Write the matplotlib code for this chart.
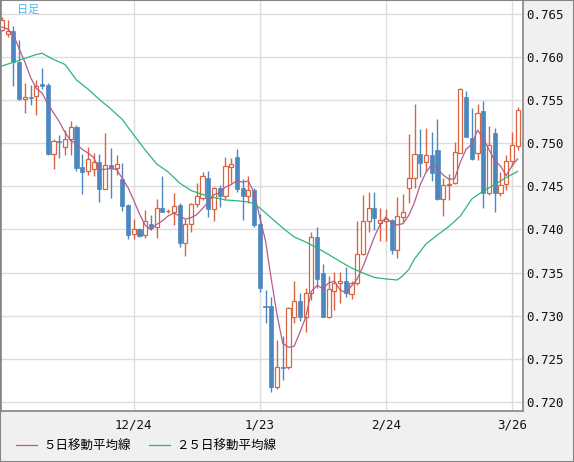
import numpy as np
import matplotlib.pyplot as plt
from matplotlib.patches import Rectangle

plt.rcParams['font.family'] = ['DejaVu Sans Mono', 'Noto Sans CJK JP']

# daily candles, index -1 (cut by the left edge) .. 89
opens = [0.76314, 0.76268, 0.76302, 0.75943, 0.75519, 0.75537, 0.75554, 0.75682, 0.75676, 0.74879,
         0.75026, 0.74957, 0.75046, 0.75192, 0.74725, 0.74673, 0.74696, 0.74783, 0.74473, 0.74748,
         0.74717, 0.74586, 0.74284, 0.73944, 0.74006, 0.73933, 0.74060, 0.74025, 0.74249, 0.74209,
         0.74206, 0.74284, 0.73847, 0.74060, 0.74292, 0.74362, 0.74597, 0.74241, 0.74478, 0.74392,
         0.74728, 0.74844, 0.74478, 0.74392, 0.74458, 0.74064, 0.73112, 0.73116, 0.72176, 0.72405,
         0.72399, 0.72981, 0.73170, 0.72988, 0.73260, 0.73913, 0.73495, 0.72988, 0.73286, 0.73376,
         0.73402, 0.73252, 0.73376, 0.73712, 0.74098, 0.74249, 0.74079, 0.74098, 0.74110, 0.73762,
         0.74148, 0.74478, 0.74594, 0.74876, 0.74779, 0.74864, 0.74922, 0.74357, 0.74520, 0.74536,
         0.74891, 0.75540, 0.75058, 0.74887, 0.75374, 0.74420, 0.75123, 0.74427, 0.74524, 0.74789,
         0.74968]
highs = [0.76465, 0.76430, 0.76360, 0.76198, 0.75699, 0.75676, 0.75734, 0.75873, 0.75703, 0.75050,
         0.75096, 0.75154, 0.75258, 0.75209, 0.74876, 0.74957, 0.74887, 0.74876, 0.75116, 0.74945,
         0.74864, 0.74771, 0.74296, 0.74122, 0.74017, 0.74226, 0.74168, 0.74354, 0.74624, 0.74238,
         0.74427, 0.74307, 0.74118, 0.74311, 0.74536, 0.74670, 0.74678, 0.74496, 0.74516, 0.74844,
         0.74826, 0.74934, 0.74582, 0.74620, 0.74481, 0.74180, 0.73298, 0.73220, 0.72718, 0.72764,
         0.73101, 0.73402, 0.73263, 0.73321, 0.73971, 0.74029, 0.73600, 0.73460, 0.73507, 0.73510,
         0.73565, 0.73397, 0.74098, 0.74400, 0.74438, 0.74438, 0.74246, 0.74243, 0.74122, 0.74380,
         0.74412, 0.75108, 0.75456, 0.75162, 0.75177, 0.75131, 0.75278, 0.74597, 0.74644, 0.75015,
         0.75641, 0.75612, 0.75409, 0.75456, 0.75490, 0.75200, 0.75177, 0.74667, 0.74864, 0.75131,
         0.75424]
lows = [0.76302, 0.76233, 0.75664, 0.75502, 0.75355, 0.75444, 0.75328, 0.75635, 0.74864, 0.74702,
        0.74833, 0.74864, 0.74864, 0.74678, 0.74415, 0.74632, 0.74620, 0.74313, 0.74466, 0.74369,
        0.74632, 0.74214, 0.73890, 0.73886, 0.73913, 0.73901, 0.73994, 0.73905, 0.74203, 0.74191,
        0.74052, 0.73800, 0.73696, 0.73974, 0.74264, 0.74342, 0.74148, 0.74102, 0.74264, 0.74354,
        0.74536, 0.74431, 0.74110, 0.74304, 0.74025, 0.73278, 0.72919, 0.72118, 0.72150, 0.72254,
        0.72387, 0.72915, 0.72938, 0.72814, 0.73182, 0.73321, 0.72981, 0.72973, 0.73066, 0.73147,
        0.73217, 0.73194, 0.73356, 0.73704, 0.73974, 0.73994, 0.73866, 0.73866, 0.73716, 0.73666,
        0.74087, 0.74311, 0.74481, 0.74609, 0.74667, 0.74566, 0.74342, 0.74156, 0.74342, 0.74528,
        0.74887, 0.75073, 0.74803, 0.74806, 0.74249, 0.74400, 0.74203, 0.74388, 0.74458, 0.74736,
        0.74922]
closes = [0.76430, 0.76302, 0.75937, 0.75514, 0.75531, 0.75528, 0.75670, 0.75670, 0.74876, 0.75021,
          0.75017, 0.75046, 0.75189, 0.74717, 0.74670, 0.74818, 0.74783, 0.74473, 0.74748, 0.74710,
          0.74760, 0.74276, 0.73936, 0.74002, 0.73928, 0.74098, 0.74021, 0.74246, 0.74206, 0.74214,
          0.74269, 0.73847, 0.74064, 0.74292, 0.74388, 0.74620, 0.74238, 0.74478, 0.74392, 0.74736,
          0.74760, 0.74470, 0.74388, 0.74458, 0.74052, 0.73325, 0.73101, 0.72176, 0.72401, 0.72396,
          0.73089, 0.73170, 0.72988, 0.73260, 0.73909, 0.73426, 0.72988, 0.73306, 0.73379, 0.73397,
          0.73260, 0.73383, 0.73712, 0.74098, 0.74253, 0.74130, 0.74110, 0.74116, 0.73756, 0.74151,
          0.74206, 0.74594, 0.74876, 0.74775, 0.74864, 0.74652, 0.74350, 0.74513, 0.74533, 0.74895,
          0.75630, 0.75076, 0.74814, 0.75348, 0.74420, 0.74980, 0.74420, 0.74513, 0.74794, 0.74980,
          0.75386]
# closes of the 4 days before the first candle (needed for the 5 day average)
prior_closes = [0.76418, 0.76279, 0.76314, 0.76302]

# 25 day average
ma25_idx = [-1, 2, 5, 6, 8, 10, 12, 14, 16, 18, 20, 22, 24, 26, 28, 30, 32, 34, 36, 38, 40, 42, 43,
            44, 46, 48, 50, 52, 54, 56, 58, 60, 62, 64, 66, 68, 69, 70, 71, 72, 73, 75, 77, 79, 81,
            83, 85, 87, 89]
ma25_val = [0.75896, 0.75963, 0.76030, 0.76044, 0.75972, 0.75914, 0.75734, 0.75630, 0.75508, 0.75398,
            0.75276, 0.75096, 0.74922, 0.74760, 0.74667, 0.74539, 0.74452, 0.74406, 0.74371, 0.74342,
            0.74333, 0.74319, 0.74296, 0.74249, 0.74133, 0.74017, 0.73913, 0.73855, 0.73786, 0.73710,
            0.73629, 0.73553, 0.73495, 0.73443, 0.73426, 0.73414, 0.73466, 0.73536, 0.73658, 0.73745,
            0.73832, 0.73936, 0.74035, 0.74156, 0.74354, 0.74446, 0.74522, 0.74603, 0.74673]

date_idx = [22, 44, 66, 88]
date_labels = ['12/24', '1/23', '2/24', '3/26']

up_col = '#d9643f'
dn_col = '#4c88bf'
ma5_col = '#b45c8c'
ma25_col = '#2db57a'

idx = np.arange(-1, 90)
o = np.array(opens)
h = np.array(highs)
l = np.array(lows)
c = np.array(closes)
up = c >= o
dn = ~up

ma5 = np.convolve(np.concatenate([prior_closes, c]), np.ones(5) / 5, mode='valid')

fig = plt.figure(figsize=(5.74, 4.62), dpi=100, facecolor='#f0f0f0')
ax = fig.add_axes([1 / 574, 51 / 462, 522 / 574, 411 / 462])
ax.set_facecolor('white')

ax.vlines(idx[up], l[up], h[up], color=up_col, lw=1, zorder=2)
ax.vlines(idx[dn], l[dn], h[dn], color=dn_col, lw=1, zorder=2)
ax.bar(idx[up], c[up] - o[up], bottom=o[up], width=0.72, facecolor='white',
       edgecolor=up_col, linewidth=0.9, zorder=3)
ax.bar(idx[dn], o[dn] - c[dn], bottom=c[dn], width=0.72, facecolor=dn_col,
       edgecolor=dn_col, linewidth=0.5, zorder=3)

l5, = ax.plot(idx, ma5, color=ma5_col, lw=0.9, zorder=4)
l25, = ax.plot(ma25_idx, ma25_val, color=ma25_col, lw=0.9, zorder=4)

ax.set_xlim(-1.17, 89.93)
ax.set_ylim(0.71894, 0.76662)

ax.yaxis.tick_right()
yt = np.arange(0.720, 0.7651, 0.005)
ax.set_yticks(yt)
ax.set_yticklabels([f'{v:.3f}' for v in yt])
ax.set_xticks(date_idx)
ax.set_xticklabels(date_labels)
ax.tick_params(axis='y', length=0, pad=2.5, labelsize=9, colors='#111111')
ax.tick_params(axis='x', length=0, pad=5.5, labelsize=9, colors='#111111')
ax.grid(color='#dddddd', linewidth=1.0)
ax.set_axisbelow(True)
for s in ax.spines.values():
    s.set_color('#858585')
    s.set_linewidth(1.2)

ax.text(0.03, 0.975, '日足', transform=ax.transAxes, color='#45b8ea', fontsize=8,
        family=['Noto Sans CJK JP'], ha='left', va='center')

fig.legend([l5, l25], ['５日移動平均線', '２５日移動平均線'], loc='center left',
           bbox_to_anchor=(16 / 574, 1 - 446 / 462), ncol=2, frameon=False,
           handlelength=1.7, handletextpad=0.5, columnspacing=1.4,
           borderpad=0, borderaxespad=0,
           prop={'family': ['Noto Sans CJK JP', 'DejaVu Sans'], 'size': 9})

fig.patches.append(Rectangle((0, 0), 1, 1, transform=fig.transFigure, fill=False,
                             edgecolor='#858585', linewidth=1.5))

fig.savefig('out.png', dpi=100, facecolor=fig.get_facecolor())
